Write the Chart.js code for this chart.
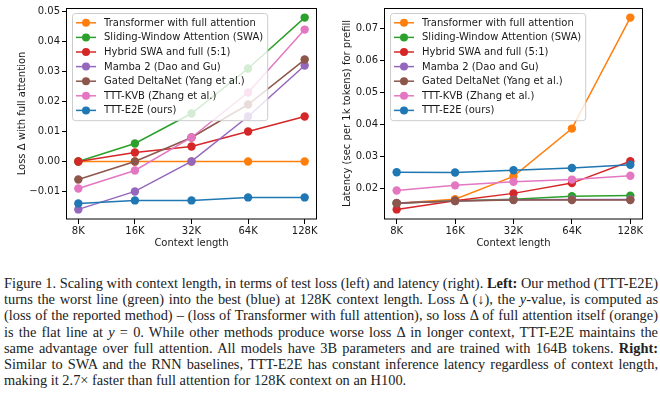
<!DOCTYPE html>
<html>
<head>
<meta charset="utf-8">
<script src="https://cdn.jsdelivr.net/npm/chart.js@4.4.0/dist/chart.umd.min.js"></script>
<style>
body { margin: 0; background: #fff; width: 660px; height: 394px; overflow: hidden; position: relative; }
canvas { position: absolute; top: 0; }
#left { left: 0; }
#right { left: 330px; }
#caption { position: absolute; left: 4px; top: 275px; width: 654px; font-family: 'Liberation Serif', serif; font-size: 14.4px; line-height: 16.2px; color: #222; }
#caption div { text-align: justify; text-align-last: justify; white-space: nowrap; }
#caption div.last { text-align-last: left; }
</style>
</head>
<body>
<canvas id="left" width="330" height="252"></canvas>
<canvas id="right" width="330" height="252"></canvas>
<div id="caption">
<div>Figure 1. Scaling with context length, in terms of test loss (left) and latency (right). <b>Left:</b> Our method (TTT-E2E)</div>
<div>turns the worst line (green) into the best (blue) at 128K context length. Loss Δ (↓), the <i>y</i>-value, is computed as</div>
<div>(loss of the reported method) – (loss of Transformer with full attention), so loss Δ of full attention itself (orange)</div>
<div>is the flat line at <i>y</i> = 0. While other methods produce worse loss Δ in longer context, TTT-E2E maintains the</div>
<div>same advantage over full attention. All models have 3B parameters and are trained with 164B tokens. <b>Right:</b></div>
<div>Similar to SWA and the RNN baselines, TTT-E2E has constant inference latency regardless of context length,</div>
<div class="last">making it 2.7× faster than full attention for 128K context on an H100.</div>
</div>
<script>
// context lengths on the x axis
const contexts = ['8K', '16K', '32K', '64K', '128K'];

const methods = [
    'Transformer with full attention',
    'Sliding-Window Attention (SWA)',
    'Hybrid SWA and full (5:1)',
    'Mamba 2 (Dao and Gu)',
    'Gated DeltaNet (Yang et al.)',
    'TTT-KVB (Zhang et al.)',
    'TTT-E2E (ours)'
];
const colors = ['#ff7f0e', '#2ca02c', '#d62728', '#9467bd', '#8c564b', '#e377c2', '#1f77b4'];

// left: loss delta vs full attention
const lossTransformer = [0, 0, 0, 0, 0];
const lossSWA = [0, 0.006, 0.016, 0.031, 0.048];
const lossHybrid = [0, 0.003, 0.005, 0.010, 0.015];
const lossMamba = [-0.016, -0.010, 0.000, 0.015, 0.032];
const lossGDN = [-0.006, 0.000, 0.008, 0.019, 0.034];
const lossKVB = [-0.009, -0.003, 0.008, 0.023, 0.044];
const lossE2E = [-0.014, -0.013, -0.013, -0.012, -0.012];
const lossTicks = [-0.01, 0.00, 0.01, 0.02, 0.03, 0.04, 0.05];

// right: prefill latency (sec per 1k tokens)
const latTransformer = [0.0155, 0.0168, 0.0239, 0.0388, 0.0734];
const latSWA = [0.0155, 0.0163, 0.0168, 0.0177, 0.0179];
const latHybrid = [0.0136, 0.0163, 0.0186, 0.0218, 0.0286];
const latMamba = [0.0156, 0.0162, 0.0166, 0.0167, 0.0167];
const latGDN = [0.0155, 0.0162, 0.0165, 0.0165, 0.0165];
const latKVB = [0.0195, 0.0211, 0.0222, 0.0229, 0.0241];
const latE2E = [0.0252, 0.0251, 0.0258, 0.0265, 0.0275];
const latTicks = [0.02, 0.03, 0.04, 0.05, 0.06, 0.07];

const FONT = { family: 'DejaVu Sans', size: 10 };
const INK = '#1a1a1a';

function fmt(v) {
    return (v < 0 ? '\u2212' : '') + Math.abs(v).toFixed(2);
}

// matplotlib style legend inside the axes + full frame
const insideLegend = {
    id: 'insideLegend',
    afterDraw(chart) {
        const ctx = chart.ctx;
        const area = chart.chartArea;
        const sets = chart.data.datasets;
        ctx.save();
        ctx.strokeStyle = '#000';
        ctx.lineWidth = 1;
        ctx.strokeRect(area.left - 0.5, area.top + 0.5, area.right - area.left + 1, area.bottom - area.top - 0.5);

        ctx.font = '10px "DejaVu Sans"';
        let maxW = 0;
        sets.forEach(d => { maxW = Math.max(maxW, ctx.measureText(d.label).width); });
        const x0 = area.left + 5, y0 = area.top + 5;
        const rowH = 14.6;
        const w = 4 + 20 + 8 + maxW + 4;
        const h = 8 + 11.6 + rowH * (sets.length - 1);
        ctx.beginPath();
        ctx.roundRect(x0 + 0.5, y0 + 0.5, w, h, 3);
        ctx.fillStyle = 'rgba(255,255,255,0.8)';
        ctx.fill();
        ctx.strokeStyle = '#cccccc';
        ctx.stroke();

        sets.forEach((d, i) => {
            const cy = y0 + 4 + 5.8 + i * rowH;
            ctx.strokeStyle = d.borderColor;
            ctx.lineWidth = 1.5;
            ctx.beginPath();
            ctx.moveTo(x0 + 4, cy);
            ctx.lineTo(x0 + 24, cy);
            ctx.stroke();
            ctx.fillStyle = d.borderColor;
            ctx.beginPath();
            ctx.arc(x0 + 14, cy, 4, 0, Math.PI * 2);
            ctx.fill();
            ctx.fillStyle = INK;
            ctx.textBaseline = 'middle';
            ctx.fillText(d.label, x0 + 32, cy + 0.5);
        });
        ctx.restore();
    }
};

function makeChart(id, series, yTicks, yTitle, axisW, padRight, titlePad) {
    const all = series.flat();
    const lo = Math.min(...all), hi = Math.max(...all);
    const margin = (hi - lo) * 0.05;

    const datasets = series.map((vals, i) => ({
        label: methods[i],
        data: vals.map((v, j) => ({ x: j, y: v })),
        borderColor: colors[i],
        backgroundColor: colors[i],
        pointBackgroundColor: colors[i],
        pointBorderColor: colors[i],
        borderWidth: 1.5,
        pointRadius: 4.2,
        pointBorderWidth: 0,
        tension: 0,
        order: series.length - i
    }));

    const tickGrid = { drawOnChartArea: false, drawTicks: true, tickLength: 5, tickColor: '#000', tickWidth: 1 };

    return new Chart(document.getElementById(id), {
        type: 'line',
        data: { datasets: datasets },
        options: {
            responsive: false,
            animation: false,
            layout: { padding: { left: 0, right: padRight, top: 6, bottom: 0 } },
            plugins: { legend: { display: false }, tooltip: { enabled: false } },
            scales: {
                x: {
                    type: 'linear',
                    min: -0.2,
                    max: contexts.length - 1 + 0.2,
                    afterFit(s) { s.height = 33; },
                    afterBuildTicks(s) { s.ticks = contexts.map((c, i) => ({ value: i })); },
                    ticks: { callback: v => contexts[v], font: FONT, color: INK, padding: 1, maxRotation: 0, autoSkip: false },
                    grid: tickGrid,
                    border: { display: false },
                    title: { display: true, text: 'Context length', font: FONT, color: INK, padding: { top: 0, bottom: 3 } }
                },
                y: {
                    type: 'linear',
                    min: lo - margin,
                    max: hi + margin,
                    afterFit(s) { s.width = axisW; },
                    afterBuildTicks(s) { s.ticks = yTicks.map(v => ({ value: v })); },
                    ticks: { callback: v => fmt(v), font: FONT, color: INK, padding: 2 },
                    grid: tickGrid,
                    border: { display: false },
                    title: { display: true, text: yTitle, font: FONT, color: INK, padding: { top: titlePad + 2, bottom: 0 } }
                }
            }
        },
        plugins: [insideLegend]
    });
}

makeChart('left',
    [lossTransformer, lossSWA, lossHybrid, lossMamba, lossGDN, lossKVB, lossE2E],
    lossTicks, 'Loss \u0394 with full attention', 67, 14, 14);

makeChart('right',
    [latTransformer, latSWA, latHybrid, latMamba, latGDN, latKVB, latE2E],
    latTicks, 'Latency (sec per 1k tokens) for prefill', 55, 18, 9);
</script>
</body>
</html>
